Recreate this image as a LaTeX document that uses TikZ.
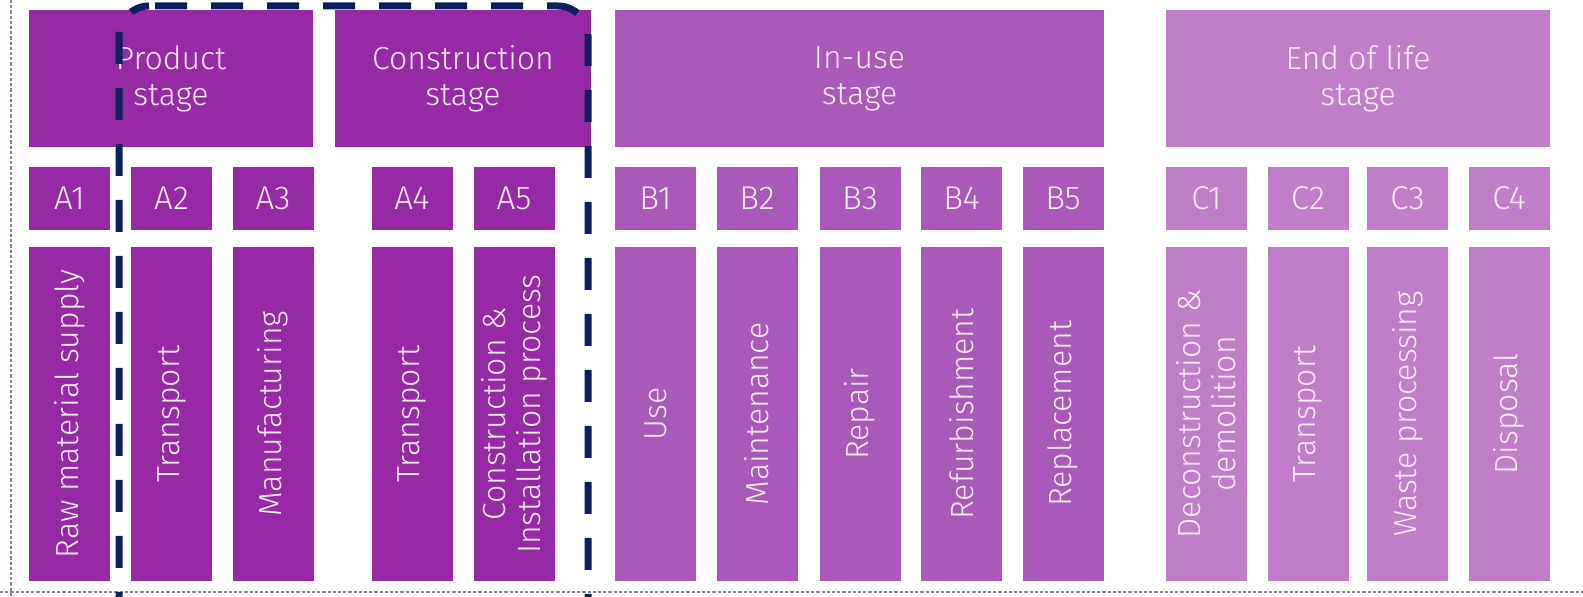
\documentclass[tikz,border=0pt]{standalone}
\usepackage{fontspec}
\setmainfont{Fira Sans Light}
\usepackage{tikz}
\definecolor{prodcol}{RGB}{150,42,165}
\definecolor{usecol}{RGB}{170,88,186}
\definecolor{eolcol}{RGB}{192,126,201}
\definecolor{labelcol}{RGB}{251,238,251}
\definecolor{framecol}{RGB}{12,31,94}
\definecolor{rulecol}{RGB}{145,125,155}
\begin{document}
\begin{tikzpicture}[x=0.5pt,y=-0.5pt,
  stagebox/.style={draw=none,inner sep=0pt,minimum width=#1,minimum height=68.5pt,
    text=labelcol,align=center,font=\fontsize{16}{18}\selectfont},
  codebox/.style={draw=none,inner sep=0pt,minimum width=40.5pt,minimum height=31.5pt,
    text=labelcol,font=\fontsize{16.5}{18}\selectfont},
  modbox/.style={draw=none,inner sep=0pt,rotate=90,minimum width=167pt,minimum height=40.5pt,
    text=labelcol,align=center,font=\fontsize{16}{17.5}\selectfont},
  frameline/.style={draw=framecol,line width=3.5pt,rounded corners=15pt,
    dash pattern=on 16pt off 12pt,dash phase=#1},
  edgeline/.style={draw=rulecol,line width=1pt,dash pattern=on 1.6pt off 1pt},
]
\useasboundingbox (0,0) rectangle (1583,597);
%%
\draw [edgeline] (11,0) -- (11,597);
\draw [edgeline] (0,592) -- (1583,592);
%% stages
\node (hdr_prod) at (171,78.5) [stagebox=142pt,fill=prodcol] {Product\\stage};
\node (hdr_cons) at (463,78.5) [stagebox=128pt,fill=prodcol] {Construction\\stage};
\node (hdr_use) at (859.5,78.5) [stagebox=244.5pt,fill=usecol] {In-use\\stage};
\node (hdr_eol) at (1358,78.5) [stagebox=192pt,fill=eolcol] {End of life\\stage};
%% codes
\node (code_a1) at (69.5,198.5) [codebox,fill=prodcol] {A1};
\node (code_a2) at (171.5,198.5) [codebox,fill=prodcol] {A2};
\node (code_a3) at (273,198.5) [codebox,fill=prodcol] {A3};
\node (code_a4) at (412,198.5) [codebox,fill=prodcol] {A4};
\node (code_a5) at (514,198.5) [codebox,fill=prodcol] {A5};
\node (code_b1) at (655.5,198.5) [codebox,fill=usecol] {B1};
\node (code_b2) at (757,198.5) [codebox,fill=usecol] {B2};
\node (code_b3) at (860,198.5) [codebox,fill=usecol] {B3};
\node (code_b4) at (961.5,198.5) [codebox,fill=usecol] {B4};
\node (code_b5) at (1063,198.5) [codebox,fill=usecol] {B5};
\node (code_c1) at (1206.5,198.5) [codebox,fill=eolcol] {C1};
\node (code_c2) at (1308,198.5) [codebox,fill=eolcol] {C2};
\node (code_c3) at (1407.5,198.5) [codebox,fill=eolcol] {C3};
\node (code_c4) at (1509,198.5) [codebox,fill=eolcol] {C4};
%% modules
\node (mod_a1) at (69.5,414) [modbox,fill=prodcol] {Raw material supply};
\node (mod_a2) at (171.5,414) [modbox,fill=prodcol] {Transport};
\node (mod_a3) at (273,414) [modbox,fill=prodcol] {Manufacturing};
\node (mod_a4) at (412,414) [modbox,fill=prodcol] {Transport};
\node (mod_a5) at (514,414) [modbox,fill=prodcol] {Construction \&\\Installation process};
\node (mod_b1) at (655.5,414) [modbox,fill=usecol] {Use};
\node (mod_b2) at (757,414) [modbox,fill=usecol] {Maintenance};
\node (mod_b3) at (860,414) [modbox,fill=usecol] {Repair};
\node (mod_b4) at (961.5,414) [modbox,fill=usecol] {Refurbishment};
\node (mod_b5) at (1063,414) [modbox,fill=usecol] {Replacement};
\node (mod_c1) at (1206.5,414) [modbox,fill=eolcol] {Deconstruction \&\\demolition};
\node (mod_c2) at (1308,414) [modbox,fill=eolcol] {Transport};
\node (mod_c3) at (1407.5,414) [modbox,fill=eolcol] {Waste processing};
\node (mod_c4) at (1509,414) [modbox,fill=eolcol] {Disposal};
%% highlight round A2--A5
\draw [frameline=2pt] (119,620) -- (119,6) -- (149,6);
\draw [frameline=25pt] (149,6) -- (588,6) -- (588,620);
%
\end{tikzpicture}
\end{document}
